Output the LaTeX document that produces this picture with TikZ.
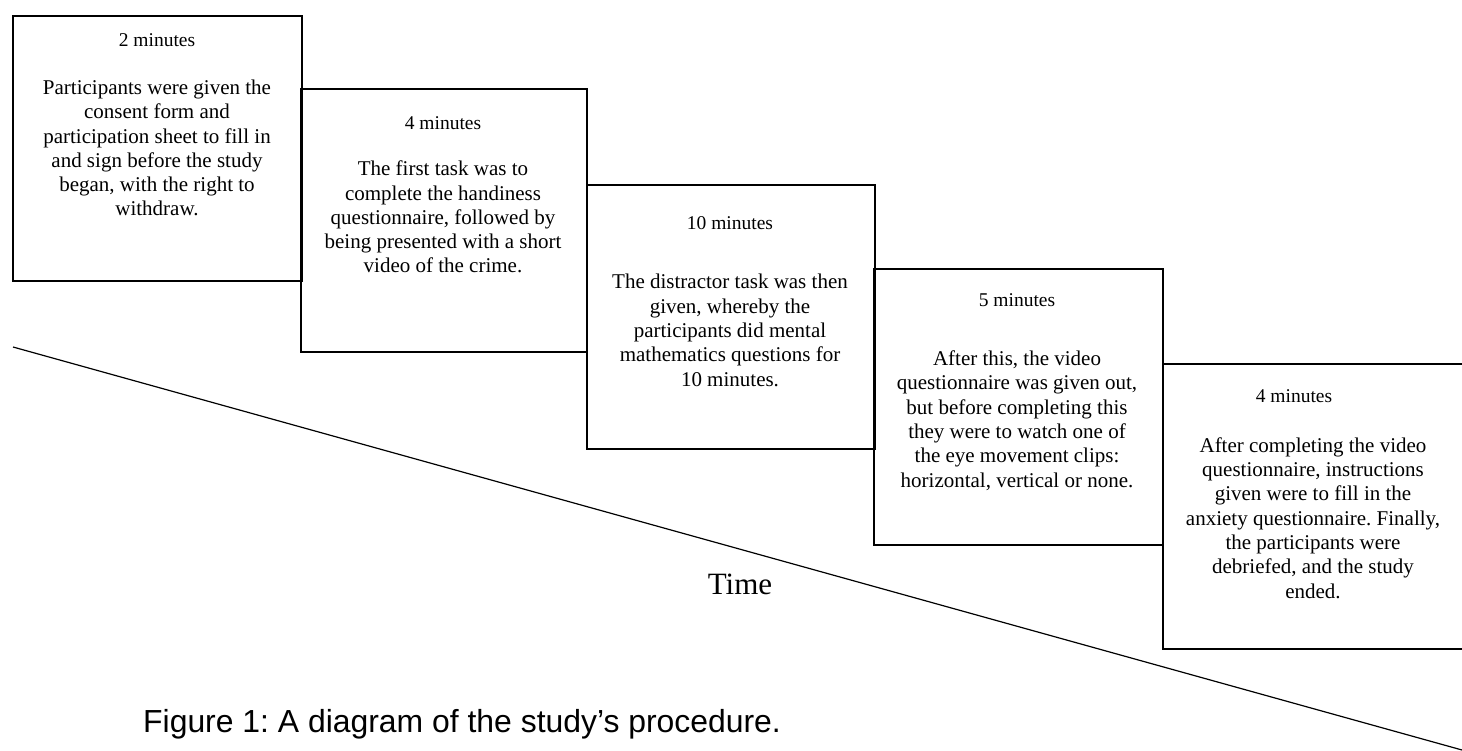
\documentclass[tikz,border=0pt]{standalone}
\usepackage{fontspec}
\setmainfont{Liberation Serif}
\newfontfamily\captionfont{Liberation Sans}
\usetikzlibrary{positioning}
\frenchspacing

\begin{document}
\begin{tikzpicture}[x=1pt, y=-1pt,
    stagebox/.style={draw, line width=2pt, rectangle, inner sep=0pt, anchor=north west},
    heading/.style={anchor=base, inner sep=0pt, font=\fontsize{19.5}{23}\selectfont},
    body/.style={anchor=base, inner sep=0pt, align=center, font=\fontsize{21}{24.3}\selectfont}]
    \useasboundingbox (0,0) rectangle (1462,751);

    % Stage 1
    \node[stagebox, minimum width=289pt, minimum height=265pt] (stage1) at (12,15) {};
    \node[heading] (head1) at (157,47) {2 minutes};
    \node[body] (text1) at (157,216) {Participants were given the\\ consent form and\\ participation sheet to fill in\\ and sign before the study\\ began, with the right to\\ withdraw.};

    % Stage 2
    \node[stagebox, minimum width=286pt, minimum height=263pt] (stage2) at (300,88) {};
    \node[heading] (head2) at (443,130) {4 minutes};
    \node[body] (text2) at (443,273) {The first task was to\\ complete the handiness\\ questionnaire, followed by\\ being presented with a short\\ video of the crime.};

    % Stage 3
    \node[stagebox, minimum width=288pt, minimum height=264pt] (stage3) at (586,184) {};
    \node[heading] (head3) at (730,230) {10 minutes};
    \node[body] (text3) at (730,386) {The distractor task was then\\ given, whereby the\\ participants did mental\\ mathematics questions for\\ 10 minutes.};

    % Stage 4
    \node[stagebox, minimum width=289pt, minimum height=276pt] (stage4) at (873,268) {};
    \node[heading] (head4) at (1017,307) {5 minutes};
    \node[body] (text4) at (1017,487) {After this, the video\\ questionnaire was given out,\\ but before completing this\\ they were to watch one of\\ the eye movement clips:\\ horizontal, vertical or none.};

    % Stage 5
    \node[stagebox, minimum width=304pt, minimum height=285pt] (stage5) at (1162,363) {};
    \node[heading] (head5) at (1294,402) {4 minutes};
    \node[body] (text5) at (1313,598) {After completing the video\\ questionnaire, instructions\\ given were to fill in the\\ anxiety questionnaire. Finally,\\ the participants were\\ debriefed, and the study\\ ended.};

    % Time axis
    \coordinate (tstart) at (13,347);
    \coordinate (tend) at (1462,750);
    \draw[line width=1.2pt] (tstart) -- (tend);
    \node[anchor=base, inner sep=0pt, font=\fontsize{31}{36}\selectfont] (timelabel) at (740,594) {Time};

    % Caption
    \node[anchor=base west, inner sep=0pt, font=\captionfont\fontsize{31.9}{38}\selectfont] (caption) at (143,732) {Figure 1: A diagram of the study’s procedure.};
\end{tikzpicture}
\end{document}
